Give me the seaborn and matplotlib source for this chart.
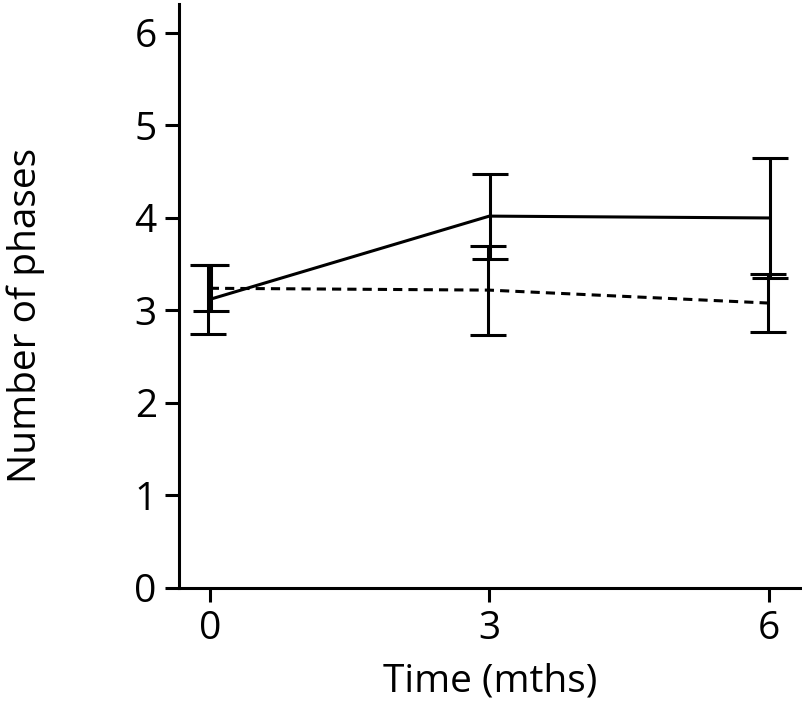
import matplotlib
matplotlib.use("Agg")
import matplotlib.pyplot as plt
import numpy as np
import pandas as pd
import seaborn as sns

months = [0, 3, 6]
solid_mean = [3.12, 4.02, 4.00]
solid_err = [0.37, 0.46, 0.65]
dashed_mean = [3.24, 3.22, 3.08]
dashed_err = [0.25, 0.48, 0.31]

df = pd.DataFrame({
    "month": months * 2,
    "phases": solid_mean + dashed_mean,
    "group": ["solid"] * 3 + ["dashed"] * 3,
})

sns.set_theme(style="ticks")
plt.rcParams["font.family"] = ["Open Sans", "DejaVu Sans"]
plt.rcParams["text.color"] = "black"
plt.rcParams["axes.labelcolor"] = "black"
plt.rcParams["xtick.color"] = "black"
plt.rcParams["ytick.color"] = "black"

fig = plt.figure(figsize=(8.03, 7.14), dpi=100)
ax = fig.add_axes([0.223, 0.1765, 0.775, 0.8175])

sns.lineplot(data=df, x="month", y="phases", style="group",
             dashes={"solid": "", "dashed": (3, 2)}, color="black",
             linewidth=2.2, legend=False, ax=ax)

# small horizontal shift so the two error bars don't sit on top of each other
shift = np.array([-0.015, 0.01, 0.01])
ax.errorbar(np.array(months) + shift, solid_mean, yerr=solid_err, fmt="none",
            ecolor="black", elinewidth=2.2, capsize=13, capthick=2.2)
ax.errorbar(np.array(months) - shift, dashed_mean, yerr=dashed_err, fmt="none",
            ecolor="black", elinewidth=2.2, capsize=13, capthick=2.2)

ax.set_xlim(-0.33, 6.35)
ax.set_ylim(0, 6.31)
ax.set_xticks(months)
ax.set_yticks(range(7))
ax.set_xlabel("Time (mths)", fontsize=28, labelpad=10)
ax.set_ylabel("Number of phases", fontsize=28)
ax.yaxis.set_label_coords(-0.215, 0.467)
ax.tick_params(labelsize=28, width=2.2, length=10, color="black", pad=6)
for side in ["left", "bottom"]:
    ax.spines[side].set_linewidth(2.2)
    ax.spines[side].set_color("black")
sns.despine(ax=ax)

fig.savefig("out.png", dpi=100)
